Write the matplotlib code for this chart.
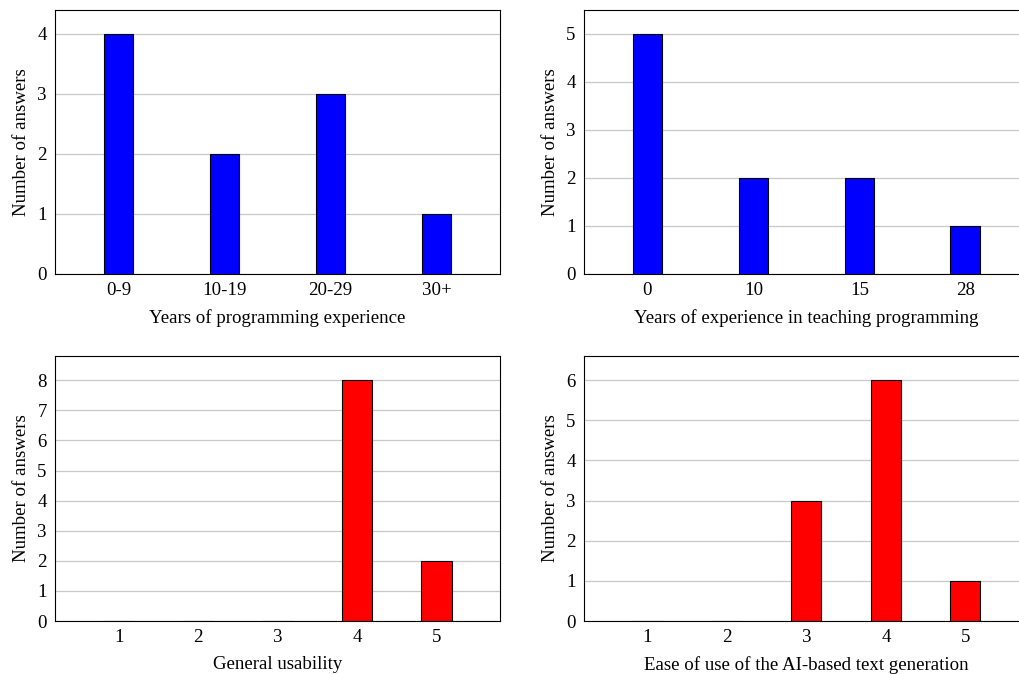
import matplotlib.pyplot as plt

plt.rcParams['font.family'] = ['Liberation Serif', 'DejaVu Serif']

# Data
prog_years = ['0-9', '10-19', '20-29', '30+']
prog_counts = [4, 2, 3, 1]

teach_years = ['0', '10', '15', '28']
teach_counts = [5, 2, 2, 1]

usability_scores = [1, 2, 3, 4, 5]
usability_counts = [0, 0, 0, 8, 2]

ease_scores = [1, 2, 3, 4, 5]
ease_counts = [0, 0, 3, 6, 1]

FS = 13.6


def style_axes(ax, ymax, xlabel):
    ax.set_ylim(0, ymax * 1.1)
    ax.set_yticks(range(0, ymax + 1))
    ax.yaxis.grid(True, color='#c8c8c8', linewidth=0.9)
    ax.set_axisbelow(True)
    ax.tick_params(length=0, labelsize=FS, pad=6)
    for s in ax.spines.values():
        s.set_linewidth(0.8)
    ax.set_xlabel(xlabel, fontsize=FS, labelpad=7)
    ax.set_ylabel('Number of answers', fontsize=FS, labelpad=5)


fig = plt.figure(figsize=(10.19, 6.74), dpi=100)
# right column is wider than the canvas, same as the reference (cut off on the right)
ax1 = fig.add_axes([0.054, 0.5935, 0.4367, 0.3917])
ax2 = fig.add_axes([0.573, 0.5935, 0.4367, 0.3917])
ax3 = fig.add_axes([0.054, 0.0786, 0.4367, 0.393])
ax4 = fig.add_axes([0.573, 0.0786, 0.4367, 0.393])

# top row: categorical
x = range(len(prog_years))
ax1.bar(x, prog_counts, width=0.28, color='#0000ff', edgecolor='black', linewidth=0.8)
ax1.set_xticks(list(x))
ax1.set_xticklabels(prog_years)
ax1.set_xlim(-0.6, len(prog_years) - 0.4)
style_axes(ax1, max(prog_counts), 'Years of programming experience')

x = range(len(teach_years))
ax2.bar(x, teach_counts, width=0.28, color='#0000ff', edgecolor='black', linewidth=0.8)
ax2.set_xticks(list(x))
ax2.set_xticklabels(teach_years)
ax2.set_xlim(-0.6, len(teach_years) - 0.4)
style_axes(ax2, max(teach_counts), 'Years of experience in teaching programming')

# bottom row: scores 1-5
ax3.bar(usability_scores, usability_counts, width=0.38, color='#ff0000', edgecolor='black', linewidth=0.8)
ax3.set_xticks(usability_scores)
ax3.set_xlim(0.2, 5.8)
style_axes(ax3, max(usability_counts), 'General usability')

ax4.bar(ease_scores, ease_counts, width=0.38, color='#ff0000', edgecolor='black', linewidth=0.8)
ax4.set_xticks(ease_scores)
ax4.set_xlim(0.2, 5.8)
style_axes(ax4, max(ease_counts), 'Ease of use of the AI-based text generation')

fig.savefig('out.png', dpi=100)
